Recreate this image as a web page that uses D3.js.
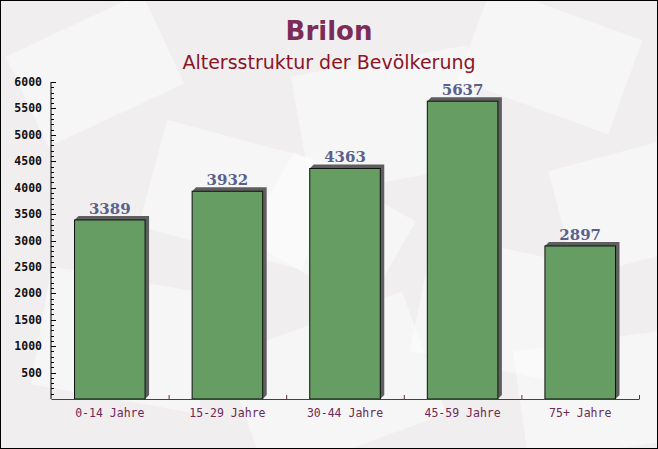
<!DOCTYPE html>
<html>
<head>
<meta charset="utf-8">
<script src="https://cdn.jsdelivr.net/npm/d3@7"></script>
<style>
  body { margin: 0; background: #fff; }
  svg { display: block; }
</style>
</head>
<body>
<div id="chart"></div>
<script>
// data
const categories = ["0-14 Jahre", "15-29 Jahre", "30-44 Jahre", "45-59 Jahre", "75+ Jahre"];
const values = [3389, 3932, 4363, 5637, 2897];
const yTicks = [500, 1000, 1500, 2000, 2500, 3000, 3500, 4000, 4500, 5000, 5500, 6000];
const title = "Brilon";
const subtitle = "Altersstruktur der Bevölkerung";

const width = 658, height = 449;
const margin = {top: 82, right: 19, bottom: 50, left: 51};

const svg = d3.select("#chart").append("svg")
    .attr("width", width)
    .attr("height", height);

// background with faint envelope shapes
svg.append("rect").attr("width", width).attr("height", height).attr("fill", "#f1eef0");
const deco = [
    [20, 20, 150, 100, -25], [150, 140, 170, 110, 15], [300, 60, 180, 120, -10],
    [470, 10, 160, 100, 20], [560, 150, 150, 110, -15], [40, 280, 170, 120, 10],
    [240, 320, 190, 130, -20], [420, 250, 170, 120, 12], [520, 340, 160, 110, -8],
    [260, 180, 140, 100, 30]
];
svg.append("g").selectAll("rect").data(deco).enter().append("rect")
    .attr("x", d => d[0]).attr("y", d => d[1])
    .attr("width", d => d[2]).attr("height", d => d[3])
    .attr("transform", d => `rotate(${d[4]},${d[0] + d[2] / 2},${d[1] + d[3] / 2})`)
    .attr("fill", "#ffffff").attr("opacity", 0.45);

svg.append("text")
    .attr("x", 329).attr("y", 40)
    .attr("text-anchor", "middle")
    .style("font-family", "DejaVu Sans").style("font-weight", "bold")
    .style("font-size", "26px").style("fill", "#7b2d58")
    .text(title);

svg.append("text")
    .attr("x", 329).attr("y", 69)
    .attr("text-anchor", "middle")
    .style("font-family", "DejaVu Sans")
    .style("font-size", "19px").style("fill", "#8b1526")
    .text(subtitle);

const x = d3.scaleBand()
    .domain(categories)
    .range([margin.left, width - margin.right])
    .paddingInner(0.4)
    .paddingOuter(0.2);

const y = d3.scaleLinear()
    .domain([0, 6000])
    .range([height - margin.bottom, margin.top]);

const g = svg.append("g");
const off = 4;

// extruded shadow on top and right of each bar
g.selectAll(".shadow")
    .data(values)
    .enter().append("path")
    .attr("class", "shadow")
    .attr("d", (d, i) => {
        const x0 = x(categories[i]), x1 = x0 + x.bandwidth();
        const y0 = y(d), y1 = y(0);
        return `M${x0},${y0}L${x0 + off},${y0 - off}L${x1 + off},${y0 - off}` +
               `L${x1 + off},${y1 - off}L${x1},${y1}Z`;
    })
    .attr("fill", "#5e5e5e");

g.selectAll(".bar")
    .data(values)
    .enter().append("rect")
    .attr("class", "bar")
    .attr("x", (d, i) => x(categories[i]))
    .attr("y", d => y(d))
    .attr("width", x.bandwidth())
    .attr("height", d => y(0) - y(d))
    .attr("fill", "#659d63")
    .attr("stroke", "#111")
    .attr("stroke-width", 1);

g.selectAll(".val")
    .data(values)
    .enter().append("text")
    .attr("class", "val")
    .attr("x", (d, i) => x(categories[i]) + x.bandwidth() / 2)
    .attr("y", d => y(d) - 6)
    .attr("text-anchor", "middle")
    .style("font-family", "DejaVu Serif").style("font-weight", "bold")
    .style("font-size", "15px").style("fill", "#5a6189")
    .text(d => d);

// y axis
const yAxis = svg.append("g")
    .attr("transform", `translate(${margin.left},0)`);
yAxis.append("line")
    .attr("x1", 0).attr("x2", 0)
    .attr("y1", y(6000)).attr("y2", y(0))
    .attr("stroke", "#000");
yAxis.selectAll(".minor")
    .data(d3.range(100, 6001, 100))
    .enter().append("line")
    .attr("x1", 0).attr("x2", d => d % 500 === 0 ? 5 : 3)
    .attr("y1", d => Math.round(y(d)) + 0.5).attr("y2", d => Math.round(y(d)) + 0.5)
    .attr("stroke", "#000");
yAxis.selectAll(".lbl")
    .data(yTicks)
    .enter().append("text")
    .attr("x", -9).attr("y", d => y(d) + 4)
    .attr("text-anchor", "end")
    .style("font-family", "DejaVu Sans Mono").style("font-weight", "bold")
    .style("font-size", "11.5px").style("fill", "#111")
    .text(d => d);

// x axis
const xAxis = d3.axisBottom(x).tickSize(0).tickPadding(10);
const xg = svg.append("g")
    .attr("transform", `translate(0,${y(0)})`)
    .call(xAxis);
xg.select(".domain").attr("stroke", "#6b2a45");
xg.selectAll("text")
    .style("font-family", "DejaVu Sans Mono")
    .style("font-size", "11.5px").style("fill", "#6e2a55");
xg.selectAll(".sep")
    .data(categories)
    .enter().append("line")
    .attr("x1", d => x(d) + x.bandwidth() + x.step() * 0.2 + 0.5)
    .attr("x2", d => x(d) + x.bandwidth() + x.step() * 0.2 + 0.5)
    .attr("y1", 0).attr("y2", -4)
    .attr("stroke", "#6b2a45");

// frame
svg.append("rect")
    .attr("x", 0.5).attr("y", 0.5)
    .attr("width", width - 1).attr("height", height - 1)
    .attr("fill", "none").attr("stroke", "#000");
</script>
</body>
</html>
